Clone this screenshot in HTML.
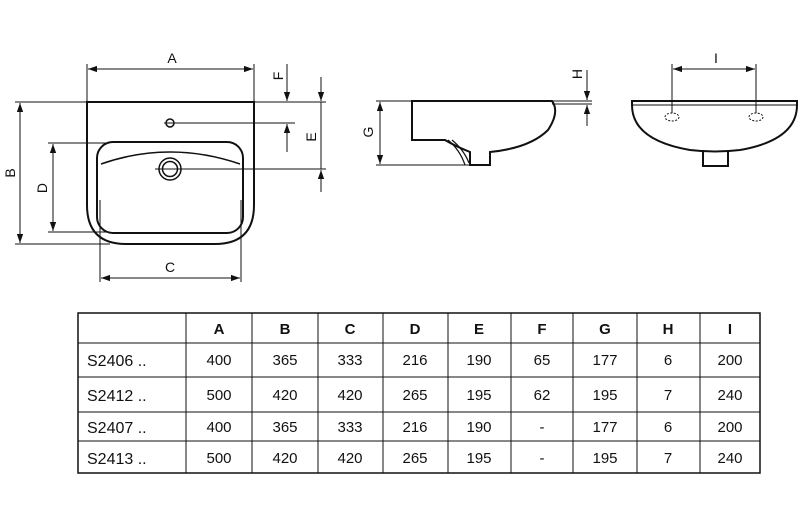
<!DOCTYPE html><html><head><style>body{margin:0;background:#fff}svg{display:block}
text{font-family:"Liberation Sans",Arial,sans-serif;fill:#111}</style></head><body>
<svg width="800" height="523" viewBox="0 0 800 523" xmlns="http://www.w3.org/2000/svg">
<defs><marker id="ar" viewBox="0 0 10 10" refX="10" refY="5" markerWidth="9" markerHeight="9" orient="auto-start-reverse" markerUnits="userSpaceOnUse"><path d="M0,1.5 L10,5 L0,8.5 z" fill="#111"/></marker></defs>
<g stroke="#111" fill="none" stroke-width="1">
<path d="M87,102 H254 V205 Q254,244 215,244 H126 Q87,244 87,205 Z" stroke-width="2"/>
<rect x="97" y="142" width="146" height="91" rx="16" stroke-width="2"/>
<path d="M101,164 Q170,140 240,164" stroke-width="1.5"/>
<circle cx="170" cy="123" r="4" stroke-width="1.5"/>
<circle cx="170" cy="169" r="11" stroke-width="1.5"/><circle cx="170" cy="169" r="7.5" stroke-width="1.5"/>
<line x1="87" y1="64" x2="87" y2="102"/><line x1="254" y1="64" x2="254" y2="102"/>
<line x1="88" y1="69" x2="253" y2="69" marker-start="url(#ar)" marker-end="url(#ar)"/>
<line x1="15" y1="102" x2="87" y2="102"/><line x1="15" y1="244" x2="110" y2="244"/>
<line x1="20" y1="103" x2="20" y2="243" marker-start="url(#ar)" marker-end="url(#ar)"/>
<line x1="48" y1="143" x2="110" y2="143"/><line x1="48" y1="232" x2="110" y2="232"/>
<line x1="53" y1="144" x2="53" y2="231" marker-start="url(#ar)" marker-end="url(#ar)"/>
<line x1="100" y1="200" x2="100" y2="282"/><line x1="241" y1="200" x2="241" y2="282"/>
<line x1="101" y1="278" x2="240" y2="278" marker-start="url(#ar)" marker-end="url(#ar)"/>
<line x1="254" y1="102" x2="326" y2="102"/>
<line x1="164" y1="123" x2="295" y2="123"/>
<line x1="155" y1="169" x2="326" y2="169"/>
<line x1="287" y1="64" x2="287" y2="101" marker-end="url(#ar)"/>
<line x1="287" y1="152" x2="287" y2="124" marker-end="url(#ar)"/>
<line x1="321" y1="77" x2="321" y2="101" marker-end="url(#ar)"/>
<line x1="321" y1="102" x2="321" y2="169"/>
<line x1="321" y1="192" x2="321" y2="170" marker-end="url(#ar)"/>
<path d="M412,101 H552 Q560,112 548,130 Q530,148 490,152 V165 H470 V152 Q455,146 445,140 H412 Z" stroke-width="2"/>
<path d="M448,140 Q460,150 465,165 M452,140 Q464,150 469,163" stroke-width="1.2"/>
<line x1="376" y1="101" x2="592" y2="101"/><line x1="552" y1="104" x2="592" y2="104"/>
<line x1="376" y1="165" x2="470" y2="165"/>
<line x1="380" y1="102" x2="380" y2="164" marker-start="url(#ar)" marker-end="url(#ar)"/>
<line x1="587" y1="70" x2="587" y2="100" marker-end="url(#ar)"/>
<line x1="587" y1="126" x2="587" y2="105" marker-end="url(#ar)"/>
<path d="M632,101 H797 V105 Q797,140 740,150 Q715,153 690,150 Q632,140 632,105 Z" stroke-width="2"/>
<line x1="632" y1="105" x2="797" y2="105"/>
<path d="M703,150 V166 H728 V150" stroke-width="2"/>
<ellipse cx="672" cy="117" rx="7" ry="4" stroke-dasharray="2,1.5"/>
<ellipse cx="756" cy="117" rx="7" ry="4" stroke-dasharray="2,1.5"/>
<line x1="672" y1="64" x2="672" y2="113"/><line x1="756" y1="64" x2="756" y2="113"/>
<line x1="673" y1="69" x2="755" y2="69" marker-start="url(#ar)" marker-end="url(#ar)"/>
<rect x="78" y="313" width="682" height="160" stroke-width="1.5"/>
<path d="M78,343H760M78,377H760M78,412H760M78,441H760"/>
<path d="M186,313V473M252,313V473M318,313V473M383,313V473M448,313V473M511,313V473M573,313V473M637,313V473M700,313V473"/>
</g>
<g font-size="14">
<text x="172" y="63" text-anchor="middle">A</text>
<text x="170" y="272" text-anchor="middle">C</text>
<text x="716" y="63" text-anchor="middle">I</text>
<text transform="translate(15,173) rotate(-90)" text-anchor="middle">B</text>
<text transform="translate(47,188) rotate(-90)" text-anchor="middle">D</text>
<text transform="translate(283,76) rotate(-90)" text-anchor="middle">F</text>
<text transform="translate(316,137) rotate(-90)" text-anchor="middle">E</text>
<text transform="translate(373,132) rotate(-90)" text-anchor="middle">G</text>
<text transform="translate(582,74) rotate(-90)" text-anchor="middle">H</text>
</g>
<g font-size="15" font-weight="bold" text-anchor="middle">
<text x="219" y="334">A</text><text x="285" y="334">B</text><text x="350" y="334">C</text><text x="415" y="334">D</text><text x="479" y="334">E</text><text x="542" y="334">F</text><text x="605" y="334">G</text><text x="668" y="334">H</text><text x="730" y="334">I</text>
</g>
<g font-size="15" text-anchor="middle">
<g transform="translate(0,365)"><text x="219">400</text><text x="285">365</text><text x="350">333</text><text x="415">216</text><text x="479">190</text><text x="542">65</text><text x="605">177</text><text x="668">6</text><text x="730">200</text></g>
<g transform="translate(0,400)"><text x="219">500</text><text x="285">420</text><text x="350">420</text><text x="415">265</text><text x="479">195</text><text x="542">62</text><text x="605">195</text><text x="668">7</text><text x="730">240</text></g>
<g transform="translate(0,432)"><text x="219">400</text><text x="285">365</text><text x="350">333</text><text x="415">216</text><text x="479">190</text><text x="542">-</text><text x="605">177</text><text x="668">6</text><text x="730">200</text></g>
<g transform="translate(0,463)"><text x="219">500</text><text x="285">420</text><text x="350">420</text><text x="415">265</text><text x="479">195</text><text x="542">-</text><text x="605">195</text><text x="668">7</text><text x="730">240</text></g>
</g>
<g font-size="16">
<text x="87" y="366">S2406 ..</text><text x="87" y="401">S2412 ..</text><text x="87" y="433">S2407 ..</text><text x="87" y="464">S2413 ..</text>
</g>
</svg></body></html>
